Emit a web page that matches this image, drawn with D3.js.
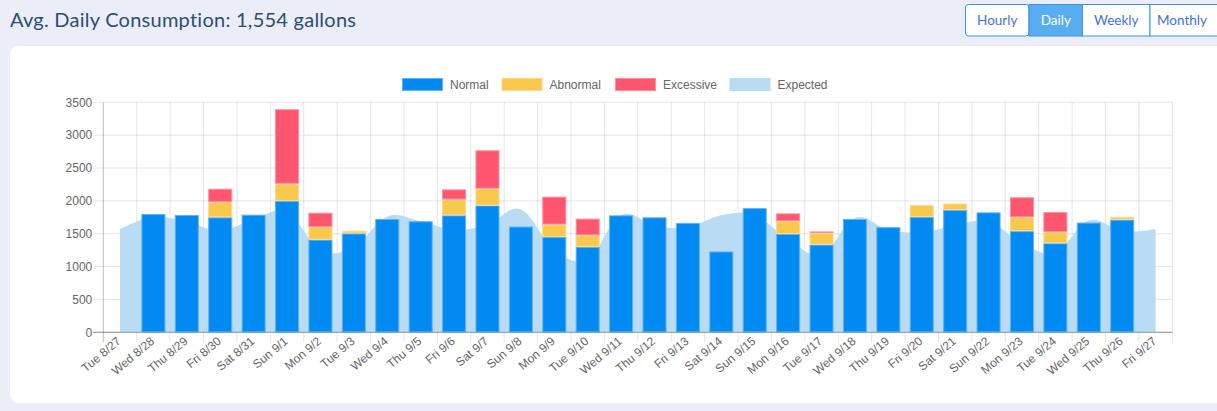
<!DOCTYPE html>
<html>
<head>
<meta charset="utf-8">
<script src="https://cdn.jsdelivr.net/npm/d3@7"></script>
<style>
  html, body { margin: 0; padding: 0; background: #ebeef8; }
  svg { display: block; }
</style>
</head>
<body>
<svg id="chart" width="1217" height="411"></svg>
<script>
// ---- data ----
const days = ["Tue 8/27","Wed 8/28","Thu 8/29","Fri 8/30","Sat 8/31","Sun 9/1","Mon 9/2","Tue 9/3","Wed 9/4","Thu 9/5","Fri 9/6","Sat 9/7","Sun 9/8","Mon 9/9","Tue 9/10","Wed 9/11","Thu 9/12","Fri 9/13","Sat 9/14","Sun 9/15","Mon 9/16","Tue 9/17","Wed 9/18","Thu 9/19","Fri 9/20","Sat 9/21","Sun 9/22","Mon 9/23","Tue 9/24","Wed 9/25","Thu 9/26","Fri 9/27"];
const normal    = [0,1800,1785,1750,1790,2000,1410,1505,1725,1690,1780,1930,1610,1450,1300,1780,1750,1665,1230,1890,1495,1335,1725,1600,1755,1860,1825,1540,1355,1670,1715,0];
const abnormal  = [0,0,0,230,0,260,190,40,0,0,240,255,0,190,175,0,0,0,0,0,195,175,0,0,180,100,0,210,170,0,40,0];
const excessive = [0,0,0,205,0,1135,220,0,0,0,155,585,0,425,255,0,0,0,0,0,120,25,0,0,0,0,0,305,305,0,0,0];
const expected  = [1570,1760,1680,1550,1720,1830,1250,1300,1760,1690,1560,1640,1870,1250,1120,1780,1620,1600,1780,1780,1420,1180,1740,1560,1520,1630,1690,1350,1220,1700,1540,1570];
const yTicks = [0,500,1000,1500,2000,2500,3000,3500];
const seriesNames = ["Normal","Abnormal","Excessive","Expected"];
const seriesColors = ["#018bf2","#fac84c","#ff5670","#b9dcf4"];
const seriesStroke = ["#5fb3f5","#fcd988","#ff8ea0","#b9dcf4"];
const title = "Avg. Daily Consumption: 1,554 gallons";
const buttons = ["Hourly","Daily","Weekly","Monthly"];
const activeButton = "Daily";

// ---- layout ----
const svg = d3.select("#chart");
const plotL = 103.3, plotR = 1172.3, plotT = 102.3, plotB = 332.3;

// title
svg.append("text").attr("x", 10).attr("y", 27)
  .attr("font-family", "Lato, 'Noto Sans', sans-serif").attr("font-size", 20)
  .attr("letter-spacing", 0.25)
  .attr("fill", "#2c4d76").text(title);

// buttons
const btnX = [965.5, 1029, 1082.5, 1150];
const btnW = [63.5, 53.5, 67.5, 80];
const bg = svg.append("g");
buttons.forEach((b, i) => {
  const active = b === activeButton;
  bg.append("rect").attr("x", btnX[i]).attr("y", 4.5).attr("width", btnW[i]).attr("height", 31.5)
    .attr("rx", i === 0 ? 3 : 0)
    .attr("fill", active ? "#58acf0" : "#ffffff")
    .attr("stroke", "#3d92ea").attr("stroke-width", 1);
});
buttons.forEach((b, i) => {
  const active = b === activeButton;
  bg.append("text").attr("x", btnX[i] + (i===3 ? 32 : btnW[i]/2)).attr("y", 25)
    .attr("text-anchor", "middle")
    .attr("font-family", "Lato, sans-serif").attr("font-size", 13.5)
    .attr("fill", active ? "#ffffff" : "#4470de").text(b);
});

// card
svg.append("rect").attr("x", 10).attr("y", 46).attr("width", 1240).attr("height", 357)
  .attr("rx", 8).attr("fill", "#ffffff");

// scales
const x = d3.scaleBand().domain(days).range([plotL, plotR]).padding(0);
const y = d3.scaleLinear().domain([0, 3500]).range([plotB, plotT]);
const bw = x.bandwidth() * 0.72;

// gridlines horizontal
const gridG = svg.append("g");
yTicks.forEach(t => {
  gridG.append("line").attr("x1", plotL - 10).attr("x2", plotR)
    .attr("y1", y(t)).attr("y2", y(t))
    .attr("stroke", t === 0 ? "rgba(0,0,0,0.25)" : "rgba(0,0,0,0.1)").attr("stroke-width", 1);
  gridG.append("text").attr("x", plotL - 11).attr("y", y(t)).attr("dy", "0.35em")
    .attr("text-anchor", "end").attr("font-family", "'Liberation Sans', Arial, sans-serif")
    .attr("font-size", 12).attr("fill", "#666").text(t);
});
// gridlines vertical (category boundaries)
const bounds = days.map(d => x(d)).concat([plotR]);
bounds.forEach((bx, i) => {
  gridG.append("line").attr("x1", bx).attr("x2", bx).attr("y1", plotT).attr("y2", plotB + 10)
    .attr("stroke", i === 0 ? "rgba(0,0,0,0.25)" : "rgba(0,0,0,0.1)").attr("stroke-width", 1);
});

// expected area
const area = d3.area()
  .x((d, i) => x(days[i]) + x.bandwidth() / 2)
  .y0(y(0)).y1(d => y(d))
  .curve(d3.curveCardinal.tension(-0.1));
svg.append("path").datum(expected).attr("d", area).attr("fill", seriesColors[3]);

// stacked bars
const stackRows = days.map((d, i) => ({day: d, Normal: normal[i], Abnormal: abnormal[i], Excessive: excessive[i]}));
const stack = d3.stack().keys(["Normal","Abnormal","Excessive"])(stackRows);
stack.forEach((layer, li) => {
  svg.append("g").selectAll("rect").data(layer.filter(s => s[1] - s[0] > 0)).join("rect")
    .attr("x", d => x(d.data.day) + (x.bandwidth() - bw) / 2 + 0.5)
    .attr("width", bw - 1)
    .attr("y", d => y(d[1]) + 0.5)
    .attr("height", d => Math.max(0, y(d[0]) - y(d[1]) - 1))
    .attr("fill", seriesColors[li])
    .attr("stroke", seriesStroke[li]).attr("stroke-width", 1);
});

// zero line redraw
svg.append("line").attr("x1", plotL - 10).attr("x2", plotR).attr("y1", y(0)).attr("y2", y(0))
  .attr("stroke", "rgba(0,0,0,0.25)");

// x labels
svg.append("g").selectAll("text").data(days).join("text")
  .attr("transform", d => `translate(${x(d) + x.bandwidth()/2 - 1},${plotB + 7}) rotate(-40)`)
  .attr("text-anchor", "end").attr("dy", "0.35em")
  .attr("font-family", "'Liberation Sans', Arial, sans-serif").attr("font-size", 12)
  .attr("fill", "#666").text(d => d);

// legend
const legX = [402, 501.5, 615, 729.5];
const lg = svg.append("g");
seriesNames.forEach((n, i) => {
  lg.append("rect").attr("x", legX[i] + 0.5).attr("y", 78.5).attr("width", 40).attr("height", 12)
    .attr("fill", seriesColors[i]).attr("stroke", seriesStroke[i]);
  lg.append("text").attr("x", legX[i] + 48).attr("y", 89)
    .attr("font-family", "'Liberation Sans', Arial, sans-serif").attr("font-size", 12)
    .attr("fill", "#666").text(n);
});
</script>
</body>
</html>
